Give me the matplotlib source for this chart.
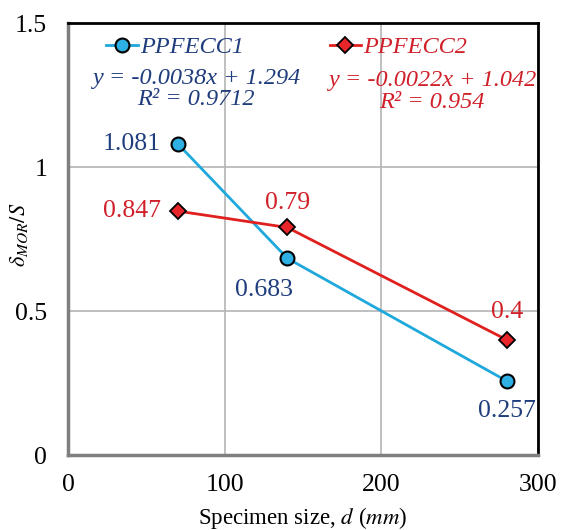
import matplotlib.pyplot as plt

# data
size_mm = [70, 140, 280]
ppfecc1 = [1.081, 0.683, 0.257]
ppfecc2 = [0.847, 0.79, 0.4]
lab1 = ["1.081", "0.683", "0.257"]
lab2 = ["0.847", "0.79", "0.4"]

blue_txt = "#1f3c7c"
red_txt = "#d0202a"

plt.rcParams["font.family"] = ["Liberation Serif", "DejaVu Serif"]
plt.rcParams["mathtext.fontset"] = "stix"

fig = plt.figure(figsize=(5.62, 5.30), dpi=100)
ax = fig.add_axes([68 / 562, 75 / 530, 470 / 562, 432 / 530])

ax.plot(size_mm, ppfecc1, color="#1ea8dc", lw=2, marker="o", ms=10,
        mfc="#2fb0e4", mec="black", mew=1.5, label="PPFECC1", zorder=3)
ax.plot(size_mm, ppfecc2, color="#e0201e", lw=2, marker="D", ms=8,
        mfc="#e8262a", mec="black", mew=1.3, label="PPFECC2", zorder=3)

ax.set_xlim(0, 300)
ax.set_ylim(0, 1.5)
ax.set_xticks([0, 100, 200, 300])
ax.set_yticks([0, 0.5, 1, 1.5])
ax.set_yticklabels(["0", "0.5", "1", "1.5"])
ax.tick_params(length=0, labelsize=18.5)
ax.tick_params(axis="y", pad=15)
ax.tick_params(axis="x", pad=14)
ax.grid(True, color="#b4b4b4", lw=1.2)
ax.set_axisbelow(True)

for s in ["top", "right"]:
    ax.spines[s].set_color("black")
    ax.spines[s].set_linewidth(2)
for s in ["left", "bottom"]:
    ax.spines[s].set_color("#7f7f7f")
    ax.spines[s].set_linewidth(2.5)

# point labels
offs1 = [(-12, 0, "right", "center"), (-17, -15, "center", "top"), (0, -14, "center", "top")]
offs2 = [(-12, 0, "right", "center"), (0, 10, "center", "bottom"), (0, 12, "center", "bottom")]
for x, y, t, o in zip(size_mm, ppfecc1, lab1, offs1):
    ax.annotate(t, (x, y), xytext=(o[0], o[1]), textcoords="offset points",
                ha=o[2], va=o[3], fontsize=18.5, color=blue_txt)
for x, y, t, o in zip(size_mm, ppfecc2, lab2, offs2):
    ax.annotate(t, (x, y), xytext=(o[0], o[1]), textcoords="offset points",
                ha=o[2], va=o[3], fontsize=18.5, color=red_txt)

# legend entries placed like the reference
leg1 = ax.legend(handles=[ax.lines[0]], loc="upper left", bbox_to_anchor=(0.035, 1.02),
                 frameon=False, handlelength=1.3, handletextpad=0.1,
                 labelcolor=blue_txt, prop={"style": "italic", "size": 17.5})
ax.add_artist(leg1)
ax.legend(handles=[ax.lines[1]], loc="upper left", bbox_to_anchor=(0.51, 1.02),
          frameon=False, handlelength=1.3, handletextpad=0.1,
          labelcolor=red_txt, prop={"style": "italic", "size": 17.5})

ax.text(0.272, 0.847, "y = -0.0038x + 1.294\nR² = 0.9712", transform=ax.transAxes,
        ha="center", va="center", fontsize=17.5, style="italic", color=blue_txt,
        linespacing=1.05)
ax.text(0.775, 0.842, "y = -0.0022x + 1.042\nR² = 0.954", transform=ax.transAxes,
        ha="center", va="center", fontsize=17.5, style="italic", color=red_txt,
        linespacing=1.05)

ax.set_xlabel("Specimen size, $d$ ($mm$)", fontsize=16.5, labelpad=6)
fig.text(19 / 562, 1 - 235 / 530, r"$\delta_{MOR}/S$", rotation=90,
         ha="center", va="center", fontsize=16)

fig.savefig("out.png", dpi=100)
